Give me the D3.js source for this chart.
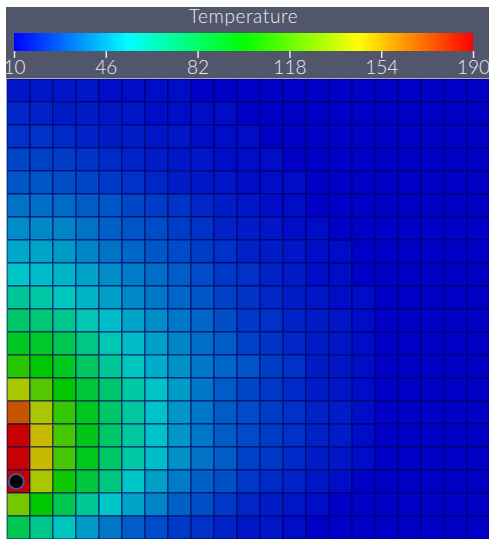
<!DOCTYPE html>
<html><head><meta charset="utf-8">
<script src="https://cdn.jsdelivr.net/npm/d3@7"></script>
<style>body{margin:0;background:#fff;}svg{display:block;}</style>
</head><body>
<svg id="chart" width="489" height="539"></svg>
<script>
// ---- data ----
const title = "Temperature";
const tickValues = [10, 46, 82, 118, 154, 190];
const valueDomain = [10, 190];
const columns = d3.range(21);
const rows = d3.range(20);
const temperatureRows = [
  [15,15,15,14,13,13,12,12,11,11,11,11,10,10,10,10,10,10,10,10,10],
  [19,18,17,16,15,14,13,13,12,12,11,11,11,10,10,10,10,10,10,10,10],
  [21,21,20,18,17,16,15,14,13,12,12,11,11,11,10,10,10,10,10,10,10],
  [26,25,24,22,20,18,16,15,14,13,12,12,11,11,10,10,10,10,10,10,10],
  [29,29,28,26,23,21,19,17,15,14,13,12,12,11,11,10,10,10,10,10,10],
  [36,35,34,31,29,26,24,22,19,17,15,13,12,11,11,10,10,10,10,10,10],
  [42,41,40,36,32,29,27,24,21,18,16,14,13,12,11,11,10,10,10,10,10],
  [48,47,45,40,36,33,30,27,24,21,18,16,14,13,12,11,11,10,10,10,10],
  [55,53,51,47,42,38,35,31,27,23,21,18,16,13,12,11,11,10,10,10,10],
  [66,63,57,51,46,41,37,33,29,25,22,19,17,15,13,12,11,10,10,10,10],
  [76,74,69,60,53,47,42,37,33,28,23,21,18,16,14,12,11,10,10,10,10],
  [92,90,82,70,60,52,46,40,35,31,25,22,19,17,15,12,11,10,10,10,10],
  [110,100,92,78,66,57,49,43,37,33,29,24,21,17,15,13,11,10,10,10,10],
  [138,119,100,87,75,63,54,45,37,31,26,23,20,17,15,12,11,10,10,10,10],
  [171,138,111,93,77,64,54,44,37,31,27,24,21,18,16,13,11,10,10,10,10],
  [190,148,116,95,77,64,54,44,37,31,27,24,21,18,16,12,11,10,10,10,10],
  [189,148,116,93,77,63,53,43,36,31,25,23,20,17,15,12,11,10,10,10,10],
  [190,138,103,86,71,55,46,38,32,28,23,20,18,15,13,11,10,10,10,10,10],
  [127,100,82,66,55,47,40,32,28,23,19,16,14,12,11,10,10,10,10,10,10],
  [82,69,57,45,37,31,27,23,21,18,15,14,12,11,10,10,10,10,10,10,10]
];
const probe = {col: 0, row: 17};

// ---- helpers ----
const rainbow = t => d3.hsl(240 * (1 - t), 1, 0.5);
const color = d3.scaleSequential(t => rainbow(t)).domain(valueDomain);
const shade = 0.78;
function litColor(v) {
  const c = d3.rgb(color(v));
  return d3.rgb(c.r * shade, c.g * shade, c.b * shade).formatHex();
}

const svg = d3.select("#chart");
const W = 489, H = 539;
const defs = svg.append("defs");

// ---- grid ----
const cell = 23;
const x = d3.scaleBand().domain(columns).range([7, 7 + cell * columns.length]);
const y = d3.scaleBand().domain(rows).range([79, 79 + cell * rows.length]);

defs.append("clipPath").attr("id", "plotClip")
  .append("rect").attr("x", 7).attr("y", 79).attr("width", W - 7).attr("height", H - 79);
defs.append("filter").attr("id", "soft").attr("x", "-5%").attr("y", "-5%")
  .attr("width", "110%").attr("height", "110%")
  .append("feGaussianBlur").attr("stdDeviation", 0.6);

const cells = [];
rows.forEach(r => columns.forEach(c => cells.push({r, c, v: temperatureRows[r][c]})));

const g = svg.append("g").attr("clip-path", "url(#plotClip)")
  .append("g").attr("filter", "url(#soft)");
g.selectAll("rect.cell").data(cells).join("rect")
  .attr("class", "cell")
  .attr("x", d => x(d.c)).attr("y", d => y(d.r))
  .attr("width", x.bandwidth()).attr("height", y.bandwidth())
  .attr("fill", d => litColor(d.v))
  .attr("stroke", "#00005a").attr("stroke-opacity", 0.4).attr("stroke-width", 2);

// probe marker
svg.append("circle")
  .attr("cx", x(probe.col) + 9.3).attr("cy", y(probe.row) + y.bandwidth() / 2)
  .attr("r", 7.5).attr("fill", "#000").attr("stroke", "#3d5a90").attr("stroke-width", 2);

// plot border
svg.append("line").attr("x1", 6.5).attr("x2", 6.5).attr("y1", 78).attr("y2", H)
  .attr("stroke", "#a9adc8").attr("stroke-width", 1);

// ---- colorbar panel ----
svg.append("rect").attr("x", 6).attr("y", 7).attr("width", W - 6).attr("height", 71)
  .attr("fill", "#52566b");
svg.append("line").attr("x1", 6).attr("x2", W).attr("y1", 78.5).attr("y2", 78.5)
  .attr("stroke", "#a9adc8").attr("stroke-width", 1);

const bar = d3.scaleLinear().domain(valueDomain).range([14, 473]);
const grad = defs.append("linearGradient").attr("id", "grad")
  .attr("x1", "0%").attr("x2", "100%").attr("y1", "0%").attr("y2", "0%");
d3.range(0, 1.0001, 0.05).forEach(t => {
  grad.append("stop").attr("offset", (t * 100) + "%").attr("stop-color", rainbow(t).formatHex());
});
svg.append("rect").attr("x", bar.range()[0]).attr("y", 33)
  .attr("width", bar.range()[1] - bar.range()[0]).attr("height", 18)
  .attr("fill", "url(#grad)");

const axis = d3.axisBottom(bar).tickValues(tickValues).tickSize(7).tickPadding(3)
  .tickFormat(d3.format("d"));
const ax = svg.append("g").attr("transform", "translate(0,51)").call(axis);
ax.select(".domain").remove();
ax.selectAll(".tick line").attr("stroke", "#e8e8ec").attr("stroke-width", 1.5);
ax.selectAll(".tick text").attr("fill", "#ececf0")
  .attr("font-family", "Lato, 'DejaVu Sans', sans-serif").attr("font-size", 19)
  .attr("font-weight", 300);

svg.append("text").attr("x", (bar.range()[0] + bar.range()[1]) / 2).attr("y", 23)
  .attr("text-anchor", "middle").attr("fill", "#ececf0")
  .attr("font-family", "Lato, 'DejaVu Sans', sans-serif").attr("font-size", 19)
  .attr("font-weight", 300).attr("letter-spacing", 0.6)
  .text(title);
</script>
</body></html>
